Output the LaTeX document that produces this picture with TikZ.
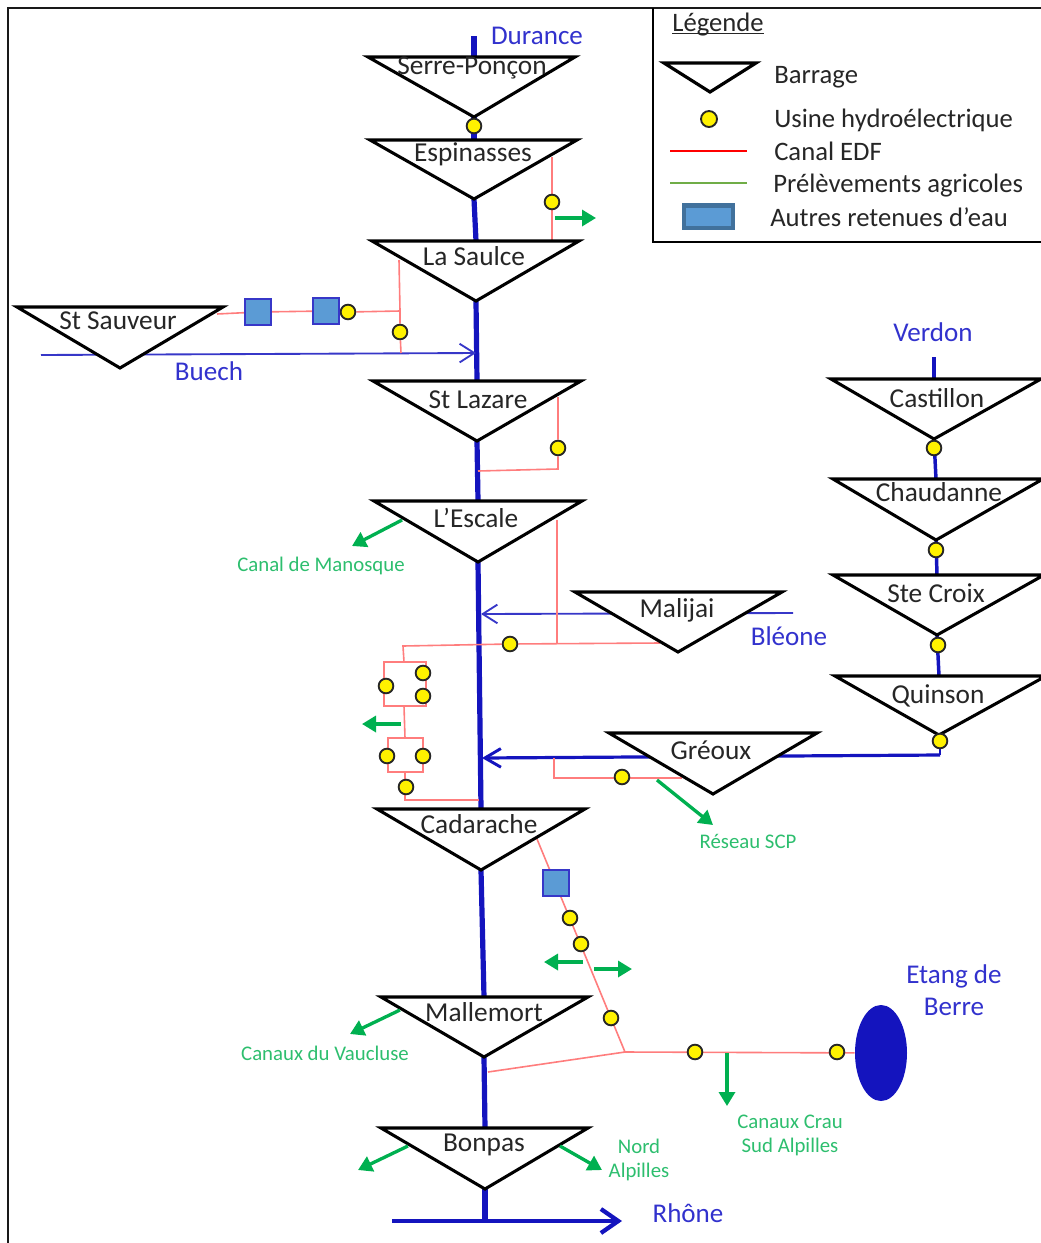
\documentclass[tikz,border=0pt]{standalone}
\usepackage{fontspec}
\setmainfont{Carlito}
\usetikzlibrary{arrows.meta,backgrounds,calc,shapes.geometric}
\definecolor{river}{RGB}{20,20,190}
\definecolor{bluetxt}{RGB}{50,50,205}
\definecolor{canal}{RGB}{255,125,125}
\definecolor{prel}{RGB}{0,176,80}
\definecolor{greentxt}{RGB}{45,190,110}
\definecolor{dark}{RGB}{38,38,38}
\definecolor{squarefill}{RGB}{91,155,213}
\tikzset{
  damshape/.style={draw=black,fill=white,line width=2.3pt,line join=miter,miter limit=10},
  damlabel/.style={inner sep=0pt,text=dark,font=\fontsize{20.5}{23}\selectfont},
  usine/.style={circle,draw=black!85,fill=yellow,line width=1.4pt,minimum size=11pt,inner sep=0pt},
  retenue/.style={rectangle,draw=river!85,fill=squarefill,line width=1.3pt,minimum size=19.5pt,inner sep=0pt},
  mainriver/.style={draw=river,line width=3.9pt},
  thinriver/.style={draw=river!85,line width=1.4pt},
  canalline/.style={draw=canal,line width=1.2pt},
  openarrow/.style={-{Straight Barb[length=11pt,width=14pt,line width=1.4pt]}},
  prelarrow/.style={draw=prel,line width=2.5pt,-{Triangle[length=10.5pt,width=12pt]}},
  bluelabel/.style={inner sep=0pt,text=bluetxt,font=\fontsize{20.3}{24}\selectfont},
  greenlabel/.style={inner sep=0pt,text=greentxt,align=center,font=\fontsize{15.6}{18}\selectfont},
  legendlabel/.style={inner sep=0pt,anchor=west,text=dark,font=\fontsize{20}{23}\selectfont},
}
% name, xleft, xright, xapex, ytop, yapex, label, xlabel, ylabel
\newcommand{\damnode}[9]{%
  \coordinate (#1-l) at ({#2+3},#5);
  \coordinate (#1-r) at ({#3-3},#5);
  \coordinate (#1-a) at (#4,{#6-1});
  \coordinate (#1-t) at (#4,#5);
  \draw[damshape] (#1-l) -- (#1-r) -- (#1-a) -- cycle;
  \node[damlabel] (#1) at (#8,#9) {#7};
}
\begin{document}
\begin{tikzpicture}[x=0.75pt,y=-0.75pt]
\useasboundingbox (0,0) rectangle (1041,1243);
% frame
\coordinate (fbl) at (8,1243);
\coordinate (ftl) at (8,8);
\coordinate (ftr) at (1041,8);
\draw[line width=2pt,black!90] (fbl) -- (ftl) -- (ftr);
% dams
\damnode{ser}{365}{578}{474}{57}{118}{Serre-Ponçon}{472}{68}
\damnode{esp}{367}{580}{474}{140}{200}{Espinasses}{473}{154}
\damnode{sau}{369}{582}{476}{241}{302}{La Saulce}{474}{256}
\damnode{sts}{14}{226}{120}{307}{369}{St Sauveur}{118}{321}
\damnode{laz}{370}{584}{477}{381}{442}{St Lazare}{478}{400}
\damnode{esc}{371}{585}{478}{501}{563}{L’Escale}{476}{518}
\damnode{mal}{572}{785}{678}{592}{653}{Malijai}{677}{610}
\damnode{cas}{828}{1044}{934}{379}{440}{Castillon}{937}{398}
\damnode{cha}{830}{1046}{936}{479}{541}{Chaudanne}{939}{492}
\damnode{stc}{830}{1047}{937}{575}{636}{Ste Croix}{936}{593}
\damnode{qui}{832}{1049}{939}{676}{736}{Quinson}{938}{696}
\damnode{gre}{606}{820}{713}{733}{795}{Gréoux}{711}{750}
\damnode{cad}{374}{588}{481}{809}{871}{Cadarache}{479}{824}
\damnode{mam}{378}{591}{484}{997}{1058}{Mallemort}{484}{1012}
\damnode{bon}{378}{591}{485}{1128}{1190}{Bonpas}{484}{1145}
% usines
\node[usine] (u1) at (474,126) {};
\node[usine] (u2) at (552,202) {};
\node[usine] (u3) at (348,312) {};
\node[usine] (u4) at (400,332) {};
\node[usine] (u5) at (558,448) {};
\node[usine] (u6) at (510,644) {};
\node[usine] (u7) at (423,673) {};
\node[usine] (u8) at (386,686) {};
\node[usine] (u9) at (423,696) {};
\node[usine] (u10) at (387,756) {};
\node[usine] (u11) at (423,756) {};
\node[usine] (u12) at (406,787) {};
\node[usine] (u13) at (622,777) {};
\node[usine] (u14) at (570,918) {};
\node[usine] (u15) at (581,944) {};
\node[usine] (u16) at (611,1018) {};
\node[usine] (u17) at (695,1052) {};
\node[usine] (u18) at (837,1052) {};
\node[usine] (u19) at (934,448) {};
\node[usine] (u20) at (936,550) {};
\node[usine] (u21) at (938,645) {};
\node[usine] (u22) at (940,741) {};
% retenues
\node[retenue,minimum size=19pt] (r1) at (258,312) {};
\node[retenue,minimum size=20pt] (r2) at (326,311) {};
\node[retenue,minimum size=19.5pt] (r3) at (556,883) {};
% lake
\node[ellipse,fill=river,minimum width=39pt,minimum height=72pt,inner sep=0pt] (etang) at (881,1053) {};
% free ends of lines
\coordinate (durance0) at (474,36);
\coordinate (verdon0) at (934,357);
\coordinate (buech0) at (41,355);
\coordinate (buechN) at (476,353);
\coordinate (mal-jn) at (481,614);
\coordinate (bleone0) at (793,613);
\coordinate (gre-jn) at (482,758);
\coordinate (qui-c) at (940,755);
\coordinate (rho0) at (392,1221);
\coordinate (rho1) at (622,1221);
\coordinate (bon-out) at (485,1221);
% rivers and canals beneath the dams and plants
\begin{scope}[on background layer]
  \draw[mainriver] (durance0) -- (ser-t);
  \draw[mainriver] (ser-a) -- (esp-t);
  \draw[mainriver] (esp-a) -- (sau-t);
  \draw[mainriver] (sau-a) -- (laz-t);
  \draw[mainriver] (laz-a) -- (esc-t);
  \draw[mainriver] (esc-a) -- (cad-t);
  \draw[mainriver] (cad-a) -- (mam-t);
  \draw[mainriver] (mam-a) -- (bon-t);
  \draw[mainriver] (bon-a) -- (bon-out);
  \draw[draw=river,line width=2.6pt] (verdon0) -- (cas-t);
  \draw[draw=river,line width=2.6pt] (cas-a) -- (cha-t);
  \draw[draw=river,line width=2.6pt] (cha-a) -- (stc-t);
  \draw[draw=river,line width=2.6pt] (stc-a) -- (qui-t);
  \draw[thinriver,openarrow] (buech0) -- (buechN);
  \draw[thinriver,openarrow] (bleone0) -- (mal-jn);
  \draw[draw=river,line width=2.2pt] (u22.center) -- (qui-c);
  \draw[draw=river,line width=2.4pt,-{Straight Barb[length=12pt,width=14pt,line width=2.2pt]}] (qui-c) -- (gre-jn);
  % canals
  \coordinate (c1) at (552,157);
  \coordinate (c2) at (552,241);
  \draw[canalline] (c1) -- (u2) -- (c2);
  \coordinate (c3) at (399,260);
  \coordinate (c4) at (400,311);
  \coordinate (c5) at (401,353);
  \coordinate (c6) at (217,314);
  \draw[canalline] (c3) -- (c4) -- (u4) -- (c5);
  \draw[canalline] (c4) -- (u3) -- (r2) -- (r1) -- (c6);
  \coordinate (c7) at (558,397);
  \coordinate (c8) at (558,469);
  \coordinate (c9) at (478,471);
  \draw[canalline] (c7) -- (u5) -- (c8) -- (c9);
  \coordinate (c10) at (557,520);
  \coordinate (c11) at (557,644);
  \draw[canalline] (c10) -- (c11);
  \coordinate (c12) at (660,643);
  \coordinate (c13) at (403,646);
  \coordinate (c14) at (404,662);
  \draw[canalline] (c12) -- (u6) -- (c13) -- (c14);
  \draw[canalline] (384,662) rectangle (426,706);
  \coordinate (c15) at (404,706);
  \coordinate (c16) at (405,738);
  \draw[canalline] (c15) -- (c16);
  \draw[canalline] (388,738) rectangle (423,772);
  \coordinate (c17) at (405,772);
  \coordinate (c18) at (405,800);
  \coordinate (c19) at (479,800);
  \draw[canalline] (c17) -- (c18) -- (c19);
  \coordinate (c20) at (554,758);
  \coordinate (c21) at (554,778);
  \coordinate (c22) at (682,778);
  \draw[canalline] (c20) -- (c21) -- (c22);
  \coordinate (c23) at (537,839);
  \coordinate (c24) at (625,1052);
  \coordinate (c25) at (488,1072);
  \draw[canalline] (c23) -- (c24) -- (c25);
  \draw[canalline] (c24) -- (etang);
\end{scope}
% Rhône
\draw[draw=river,line width=3.6pt,-{Straight Barb[length=13pt,width=18pt,line width=3.2pt]}] (rho0) -- (rho1);
% abstraction arrows
\coordinate (p1a) at (555,218); \coordinate (p1b) at (596,218);
\draw[prelarrow] (p1a) -- (p1b);
\coordinate (p2a) at (402,520); \coordinate (p2b) at (352,546);
\draw[prelarrow] (p2a) -- (p2b);
\coordinate (p3a) at (401,724); \coordinate (p3b) at (362,724);
\draw[prelarrow] (p3a) -- (p3b);
\coordinate (p4a) at (657,780); \coordinate (p4b) at (713,825);
\draw[prelarrow] (p4a) -- (p4b);
\coordinate (p5a) at (583,962); \coordinate (p5b) at (544,962);
\draw[prelarrow] (p5a) -- (p5b);
\coordinate (p6a) at (594,969); \coordinate (p6b) at (632,969);
\draw[prelarrow] (p6a) -- (p6b);
\coordinate (p7a) at (727,1053); \coordinate (p7b) at (727,1106);
\draw[prelarrow] (p7a) -- (p7b);
\coordinate (p8a) at (400,1010); \coordinate (p8b) at (350,1034);
\draw[prelarrow] (p8a) -- (p8b);
\coordinate (p9a) at (408,1146); \coordinate (p9b) at (358,1170);
\draw[prelarrow] (p9a) -- (p9b);
\coordinate (p10a) at (560,1146); \coordinate (p10b) at (602,1170);
\draw[prelarrow] (p10a) -- (p10b);
% blue labels
\node[bluelabel] (lDur) at (537,36) {Durance};
\node[bluelabel] (lBue) at (209,371) {Buech};
\node[bluelabel] (lVer) at (933,332) {Verdon};
\node[bluelabel] (lBle) at (789,636) {Bléone};
\node[bluelabel] (lRho) at (688,1213) {Rhône};
\node[bluelabel,align=center] (lEta) at (954,990) {Etang de\\Berre};
% green labels
\node[greenlabel] (lMan) at (321,566) {Canal de Manosque};
\node[greenlabel] (lScp) at (748,841) {Réseau SCP};
\node[greenlabel] (lVau) at (325,1053) {Canaux du Vaucluse};
\node[greenlabel] (lCra) at (790,1135) {Canaux Crau\\Sud Alpilles};
\node[greenlabel] (lNor) at (639,1160) {Nord\\Alpilles};
% legend
\coordinate (lg0) at (653,8);
\coordinate (lg1) at (653,242);
\coordinate (lg2) at (1041,242);
\draw[line width=0.9pt,black] (lg0) -- (lg1) -- (lg2);
\node[inner sep=0pt,anchor=base,text=dark,font=\fontsize{20}{23}\selectfont] (lLeg) at (718,31) {\underline{\smash{Légende}}};
\coordinate (lt1) at (664,63);
\coordinate (lt2) at (756,63);
\coordinate (lt3) at (710,92);
\draw[damshape,line width=2.4pt] (lt1) -- (lt2) -- (lt3) -- cycle;
\node[usine,minimum size=12pt] (lU) at (709,119) {};
\coordinate (ll1) at (670,151); \coordinate (ll2) at (747,151);
\draw[draw=red,line width=1.4pt] (ll1) -- (ll2);
\coordinate (ll3) at (670,183); \coordinate (ll4) at (747,183);
\draw[draw={rgb,255:red,112;green,173;blue,71},line width=1.6pt] (ll3) -- (ll4);
\node[rectangle,draw={rgb,255:red,65;green,113;blue,156},fill=squarefill,line width=3.4pt,minimum width=36.7pt,minimum height=17pt,inner sep=0pt] (lR) at (708.3,216.7) {};
\node[legendlabel] (t1) at (774,77) {Barrage};
\node[legendlabel] (t2) at (774,120) {Usine hydroélectrique};
\node[legendlabel] (t3) at (774,151) {Canal EDF};
\node[legendlabel] (t4) at (773,186) {Prélèvements agricoles};
\node[legendlabel] (t5) at (770,217) {Autres retenues d’eau};
\end{tikzpicture}
\end{document}
